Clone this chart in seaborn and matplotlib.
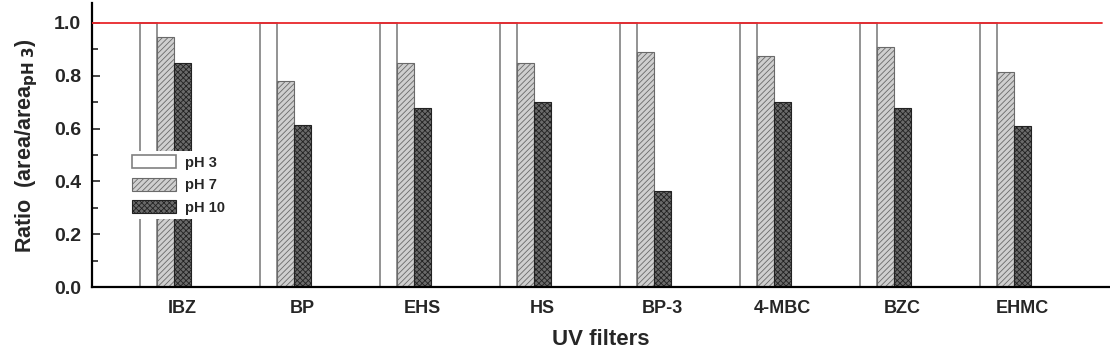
import numpy as np
import pandas as pd
import matplotlib
matplotlib.use("Agg")
import matplotlib.pyplot as plt
import seaborn as sns
from matplotlib.ticker import MultipleLocator

filters = ["IBZ", "BP", "EHS", "HS", "BP-3", "4-MBC", "BZC", "EHMC"]
ph_levels = ["pH 3", "pH 7", "pH 10"]
ph3 = [1.0, 1.0, 1.0, 1.0, 1.0, 1.0, 1.0, 1.0]
ph7 = [0.948, 0.781, 0.850, 0.850, 0.891, 0.876, 0.908, 0.816]
ph10 = [0.847, 0.614, 0.677, 0.702, 0.364, 0.700, 0.677, 0.610]

df = pd.DataFrame({
    "filter": filters * 3,
    "pH": [ph_levels[0]] * 8 + [ph_levels[1]] * 8 + [ph_levels[2]] * 8,
    "ratio": ph3 + ph7 + ph10,
})

sns.set_style("ticks")
plt.rcParams["font.family"] = ["Liberation Sans", "DejaVu Sans"]
plt.rcParams["hatch.linewidth"] = 0.6

fig = plt.figure(figsize=(11.10, 3.51), dpi=100)
ax = fig.add_axes([0.0829, 0.1823, 0.9171, 0.8087])

group_w = 0.425
sns.barplot(data=df, x="filter", y="ratio", hue="pH", order=filters,
            hue_order=ph_levels, width=group_w, dodge=True,
            palette=["white", "#c8c8c8", "#5a5a5a"], saturation=1,
            errorbar=None, ax=ax, legend=False)

styles = [
    dict(face="white", edge="#808080", hatch=None, lw=1.2),
    dict(face="#cfcfcf", edge="#6a6a6a", hatch="//////", lw=0.8),
    dict(face="#6a6a6a", edge="#222222", hatch="xxxxxx", lw=0.8),
]
handles = []
for cont, st in zip(ax.containers, styles):
    for p in cont.patches:
        p.set_facecolor(st["face"])
        p.set_edgecolor(st["edge"])
        p.set_linewidth(st["lw"])
        if st["hatch"]:
            p.set_hatch(st["hatch"])
    handles.append(cont.patches[0])

w = group_w / 3
ax.axhline(1.0, color="#e8262b", lw=1.3, zorder=5, xmax=0.992)

ax.set_xticks(np.arange(len(filters)) + w)
ax.set_xticklabels(filters, fontsize=13, fontweight="bold")
ax.tick_params(axis="x", length=0, pad=9)
ax.set_xlim(0 + w - 90 / 120, 0 + w + 928 / 120)
ax.set_ylim(0, 1.075)
ax.yaxis.set_major_locator(MultipleLocator(0.2))
ax.yaxis.set_minor_locator(MultipleLocator(0.1))
ax.set_yticks(np.arange(0, 1.01, 0.2))
ax.set_yticklabels([f"{v:.1f}" for v in np.arange(0, 1.01, 0.2)],
                   fontsize=14, fontweight="bold")
ax.tick_params(axis="y", which="major", direction="in", length=6, width=1.2,
               pad=8)
ax.tick_params(axis="y", which="minor", direction="in", length=4, width=1.2)

for s in ["top", "right"]:
    ax.spines[s].set_visible(False)
for s in ["left", "bottom"]:
    ax.spines[s].set_linewidth(1.6)
    ax.spines[s].set_color("black")

ax.set_ylabel(r"Ratio  (area/area$_{\mathbf{pH\ 3}}$)", fontsize=15.5,
              fontweight="bold", labelpad=10)
ax.set_xlabel("UV filters", fontsize=16, fontweight="bold", labelpad=9)

leg = ax.legend(handles, ph_levels, loc="upper left",
                bbox_to_anchor=(0.028, 0.505), frameon=True, fancybox=False,
                framealpha=1, edgecolor="none", facecolor="white",
                prop=dict(size=10.5, weight="bold"), handlelength=3.0,
                handleheight=1.0, labelspacing=0.55, borderpad=0.3,
                handletextpad=0.6)
leg.set_zorder(10)

fig.savefig("out.png", dpi=100)
